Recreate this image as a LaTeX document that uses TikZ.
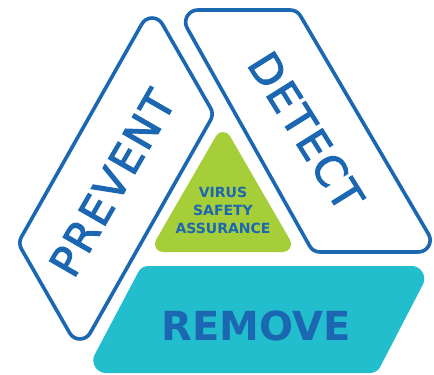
\documentclass[tikz,border=0pt]{standalone}
\usepackage{fontspec}
\setmainfont{DejaVu Sans}
\newfontfamily\medfont[FakeBold=2.5,LetterSpace=5]{DejaVu Sans}
\usetikzlibrary{calc}
\definecolor{bl}{RGB}{27,103,178}
\definecolor{cy}{RGB}{34,190,205}
\definecolor{gr}{RGB}{166,206,57}
\tikzset{
  rc/.style n args={5}{insert path={-- ($(#2)!#4!(#1)$) .. controls ($(#2)!#5!(#1)$) and ($(#2)!#5!(#3)$) .. ($(#2)!#4!(#3)$)}},
  outline/.style={draw=bl, line width=3.6pt, fill=white},
  lbl/.style={font=\bfseries\fontsize{40}{48}\selectfont, text=bl, inner sep=0pt},
  rlbl/.style={font=\medfont\fontsize{42}{50}\selectfont, text=bl, inner sep=0pt},
  small/.style={font=\bfseries\fontsize{14}{18}\selectfont, text=bl, align=center, inner sep=0pt},
}
\begin{document}
\begin{tikzpicture}[x=1pt,y=-1pt]
\useasboundingbox (0,0) rectangle (434,375);
\fill[white] (0,0) rectangle (434,375);
% PREVENT parallelogram
\coordinate (pT) at (152,6);
\coordinate (pR) at (214,114);
\coordinate (pB) at (80,351);
\coordinate (pL) at (18,243);
\draw[outline] ($(pT)!20.8pt!(pL)$) [rc={pL}{pT}{pR}{20.8pt}{11.5pt}] [rc={pT}{pR}{pB}{6.9pt}{2.6pt}] [rc={pR}{pB}{pL}{20.8pt}{11.5pt}] [rc={pB}{pL}{pT}{6.9pt}{2.6pt}] -- cycle;
% DETECT parallelogram
\coordinate (dTL) at (177,10);
\coordinate (dTR) at (297,10);
\coordinate (dBR) at (439,252);
\coordinate (dBL) at (313,252);
\draw[outline] ($(dTL)!20.8pt!(dBL)$) [rc={dBL}{dTL}{dTR}{20.8pt}{11.5pt}] [rc={dTL}{dTR}{dBR}{6.9pt}{2.6pt}] [rc={dTR}{dBR}{dBL}{20.8pt}{11.5pt}] [rc={dBR}{dBL}{dTL}{6.9pt}{2.6pt}] -- cycle;
% REMOVE parallelogram
\coordinate (rTL) at (141.5,266);
\coordinate (rTR) at (432.5,266);
\coordinate (rBR) at (377,373);
\coordinate (rBL) at (85,373);
\fill[cy] ($(rTL)!6.9pt!(rBL)$) [rc={rBL}{rTL}{rTR}{6.9pt}{2.6pt}] [rc={rTL}{rTR}{rBR}{20.8pt}{11.5pt}] [rc={rTR}{rBR}{rBL}{6.9pt}{2.6pt}] [rc={rBR}{rBL}{rTL}{20.8pt}{11.5pt}] -- cycle;
% central triangle
\coordinate (tA) at (223,124);
\coordinate (tL) at (149,252);
\coordinate (tR) at (297,252);
\fill[gr] ($(tA)!13.9pt!(tL)$) [rc={tL}{tA}{tR}{13.9pt}{7.7pt}] [rc={tA}{tR}{tL}{13.9pt}{7.7pt}] [rc={tR}{tL}{tA}{13.9pt}{7.7pt}] -- cycle;
% labels
\node[rlbl, rotate=60] (prevent) at (112,183) {PREVENT};
\node[rlbl, rotate=-58] (detect) at (306,131) {DETECT};
\node[lbl] (remove) at (256,326) {REMOVE};
\node[small] (vsa) at (223,210) {VIRUS\\SAFETY\\ASSURANCE};
\end{tikzpicture}
\end{document}
